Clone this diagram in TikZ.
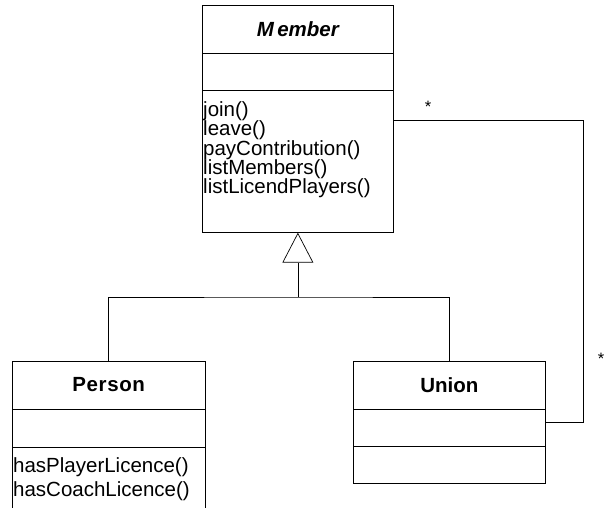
\documentclass[tikz,border=0pt]{standalone}
\usepackage{fontspec}
\setmainfont{Liberation Sans}
\usetikzlibrary{calc,arrows.meta}

\begin{document}
\begin{tikzpicture}[x=1pt,y=-1pt]
	
	% canvas
	\useasboundingbox (0,0) rectangle (606,508);
	
	% styles
	\tikzstyle{classbox}=[draw,line width=0.7pt,inner sep=0pt,anchor=north west];
	\tikzstyle{member}=[inner sep=0pt,anchor=base west,font=\fontsize{20.5}{20}\selectfont];
	\tikzstyle{title}=[inner sep=0pt,font=\fontsize{20.5}{20}\selectfont\bfseries];
	\tikzstyle{link}=[line width=0.7pt];
	
	% the abstract class
	\node[classbox,minimum width=191pt,minimum height=227pt] (member) at (202,5) {};
	\draw[link] ($(member.north west)+(0,48)$) -- ($(member.north east)+(0,48)$);
	\draw[link] ($(member.north west)+(0,85)$) -- ($(member.north east)+(0,85)$);
	\node[title,font=\fontsize{20.5}{20}\selectfont\bfseries\itshape] (membername) at ($(member.north)+(0,24)$) {M\,ember};
	\foreach \y/\op [count=\i] in {117/join(), 136/leave(), 156/payContribution(), 175/listMembers(), 194/listLicendPlayers()}
		\node[member] (op\i) at (203,\y) {\op};
	
	% person (bottom cut off by the page)
	\node[minimum width=193pt,minimum height=147pt,inner sep=0pt,anchor=north west] (person) at (12,361) {};
	\draw[link] (person.south west) -- (person.north west) -- (person.north east) -- (person.south east);
	\draw[link] ($(person.north west)+(0,48)$) -- ($(person.north east)+(0,48)$);
	\draw[link] ($(person.north west)+(0,86)$) -- ($(person.north east)+(0,86)$);
	\node[title] (personname) at ($(person.north)+(0,24)$) {\addfontfeature{LetterSpace=3}Person};
	\node[member] (op6) at (13,472) {hasPlayerLicence()};
	\node[member] (op7) at (13,496) {hasCoachLicence()};
	
	% union
	\node[classbox,minimum width=192pt,minimum height=122pt] (union) at (353,361) {};
	\draw[link] ($(union.north west)+(0,48)$) -- ($(union.north east)+(0,48)$);
	\draw[link] ($(union.north west)+(0,85)$) -- ($(union.north east)+(0,85)$);
	\node[title] (unionname) at ($(union.north)+(0,24)$) {Union};
	
	% generalisation
	\coordinate (fork) at (member.south |- 0,297);
	\draw[link] (person.north) |- (fork) -| (union.north);
	\draw[link,-{Triangle[open,length=30pt,width=31pt]}] (fork) -- (member.south);
	
	% association between member and union
	\coordinate (corner1) at (583,120);
	\coordinate (corner2) at (583,422);
	\draw[link] (member.east |- corner1) -- (corner1) -- (corner2) -- (union.east |- corner2);
	\node[inner sep=0pt,font=\fontsize{16.5}{19}\selectfont] (mult1) at (428,107) {*};
	\node[inner sep=0pt,font=\fontsize{16.5}{19}\selectfont] (mult2) at (601,359) {*};
	
\end{tikzpicture}
\end{document}
